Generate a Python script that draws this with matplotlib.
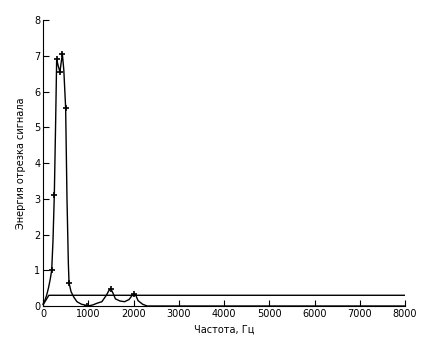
import numpy as np
import matplotlib
matplotlib.use('Agg')
from matplotlib import pyplot as plt

# energy curve (thin line)
freq = [0, 40, 80, 120, 160, 192, 220, 250, 280, 302, 340, 375, 400, 428, 460, 500, 530, 560, 575,
        620, 680, 750, 850, 950, 1000, 1100, 1200, 1300, 1400, 1450, 1500, 1550, 1600, 1700, 1800,
        1900, 1960, 2000, 2050, 2100, 2200, 2300, 2500, 8000]
energy = [0.05, 0.15, 0.3, 0.5, 0.75, 1.0, 1.8, 3.1, 5.2, 6.9, 6.7, 6.55, 6.8, 7.05, 6.6, 5.55, 3.0, 1.2, 0.65,
          0.4, 0.25, 0.12, 0.05, 0.02, 0.0, 0.03, 0.08, 0.12, 0.3, 0.42, 0.48, 0.35, 0.2, 0.14, 0.12,
          0.18, 0.28, 0.33, 0.3, 0.15, 0.05, 0.0, 0.0, 0.0]

# marked points
mark_f = [192, 250, 302, 375, 428, 500, 575, 972, 1500, 2011]
mark_e = [1.0, 3.1, 6.9, 6.55, 7.05, 5.55, 0.65, 0.0, 0.48, 0.33]

# threshold line
thr_f = [0, 130, 8000]
thr_e = [0.03, 0.3, 0.3]

fig = plt.figure(figsize=(4.27, 3.46), dpi=100)
ax = fig.add_axes([0.1007, 0.1156, 0.848, 0.8264])

ax.plot(freq, energy, color='black', lw=1.0, clip_on=False)
ax.plot(mark_f, mark_e, ls='none', marker='+', color='black', ms=5, mew=1.2)
ax.plot(thr_f, thr_e, color='black', lw=1.0)

ax.set_xlim(0, 8000)
ax.set_ylim(0, 8)
ax.set_xticks(np.arange(0, 8001, 1000))
ax.set_yticks(np.arange(0, 9, 1))
for s in ['top', 'right']:
    ax.spines[s].set_visible(False)
ax.tick_params(direction='in', length=4, labelsize=7, pad=2)
ax.set_xlabel('Частота, Гц', fontsize=7, labelpad=4)
ax.set_ylabel('Энергия отрезка сигнала', fontsize=7, labelpad=6)

fig.savefig('out.png', dpi=100)
